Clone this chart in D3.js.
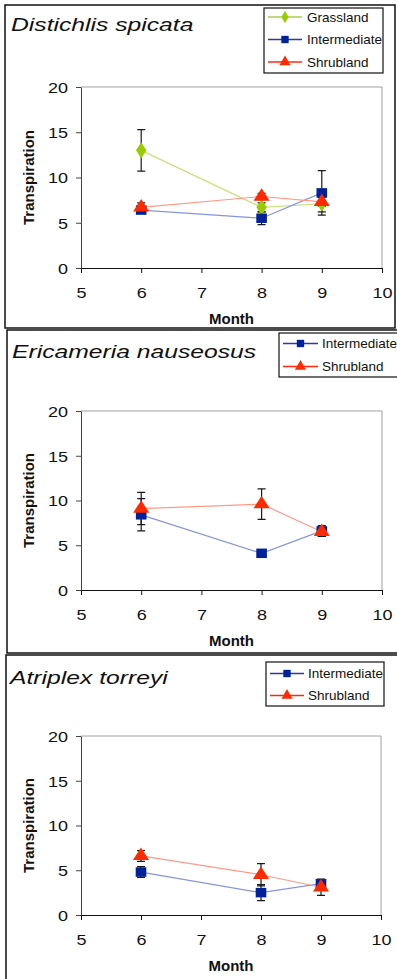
<!DOCTYPE html>
<html><head><meta charset="utf-8">
<script src="https://cdnjs.cloudflare.com/ajax/libs/d3/7.8.5/d3.min.js"></script>
<style>body{margin:0;background:#fff}svg{display:block}text{font-family:"Liberation Sans",Arial,sans-serif}</style>
</head><body>
<svg id="c" width="397" height="979"></svg>
<script>
// ---- data ----
const months = [6, 8, 9];
const xTickValues = [5, 6, 7, 8, 9, 10];
const yTickValues = [0, 5, 10, 15, 20];
const seriesNames = ["Grassland", "Intermediate", "Shrubland"];
const speciesTitles = ["Distichlis spicata", "Ericameria nauseosus", "Atriplex torreyi"];

const dsGrassland = [13.0, 6.7, 7.1];
const dsGrasslandErr = [2.3, 0.5, 0.9];
const dsIntermediate = [6.4, 5.5, 8.3];
const dsIntermediateErr = [0.3, 0.7, 2.45];
const dsShrubland = [6.7, 7.9, 7.3];
const dsShrublandErr = [0.5, 0.35, 0.5];

const enIntermediate = [8.4, 4.1, 6.6];
const enIntermediateErr = [1.8, 0.4, 0.6];
const enShrubland = [9.1, 9.6, 6.5];
const enShrublandErr = [1.8, 1.7, 0.5];

const atIntermediate = [4.8, 2.5, 3.5];
const atIntermediateErr = [0.6, 0.9, 0.4];
const atShrubland = [6.6, 4.5, 3.1];
const atShrublandErr = [0.6, 1.25, 0.9];

// ---- styles ----
const styles = {
  Grassland:   {line: "#c9e07a", legLine: "#a9d145", fill: "#99cc00", sym: d3.symbolDiamond, size: 75},
  Intermediate:{line: "#8894dc", legLine: "#2a3aa8", fill: "#002299", sym: d3.symbolSquare, size: 90},
  Shrubland:   {line: "#ff9a88", legLine: "#ff2a10", fill: "#ff2a00", sym: d3.symbolTriangle, size: 90}
};

const panels = [
  {title: speciesTitles[0], frame: [5, 5, 390, 323], plot: [81, 87, 382, 268], titlePos: [11, 31],
   legend: {box: [264, 8, 119, 65], rows: [17, 39.5, 62], lx: [268, 302], tx: 307},
   series: [
     {name: seriesNames[0], v: dsGrassland, e: dsGrasslandErr},
     {name: seriesNames[1], v: dsIntermediate, e: dsIntermediateErr},
     {name: seriesNames[2], v: dsShrubland, e: dsShrublandErr}]},
  {title: speciesTitles[1], frame: [7, 330, 395, 323], plot: [81, 411, 382, 590], titlePos: [12, 358],
   legend: {box: [279, 333, 122, 44], rows: [343.5, 366.5], lx: [283, 318], tx: 322},
   series: [
     {name: seriesNames[1], v: enIntermediate, e: enIntermediateErr},
     {name: seriesNames[2], v: enShrubland, e: enShrublandErr}]},
  {title: speciesTitles[2], frame: [6, 655, 395, 330], plot: [81, 736, 381, 915], titlePos: [10, 684],
   legend: {box: [266, 662, 118, 44], rows: [673.5, 695.5], lx: [270, 304], tx: 308},
   series: [
     {name: seriesNames[1], v: atIntermediate, e: atIntermediateErr},
     {name: seriesNames[2], v: atShrubland, e: atShrublandErr}]}
];

const svg = d3.select("#c");
const TICK_SX = 1.2, TITLE_SX = 1.3;
const fmt = d3.format("d");

panels.forEach(p => {
  const g = svg.append("g");
  const [fx, fy, fw, fh] = p.frame;
  g.append("rect").attr("x", fx).attr("y", fy).attr("width", fw).attr("height", fh)
    .attr("fill", "none").attr("stroke", "#111").attr("stroke-width", 1.5);

  const [x0, y0, x1, y1] = p.plot;
  const x = d3.scaleLinear().domain([5, 10]).range([x0, x1]);
  const y = d3.scaleLinear().domain([0, 20]).range([y1, y0]);

  // plot border (top/right gray)
  g.append("path").attr("d", `M${x0},${y0}H${x1}V${y1}`).attr("fill", "none")
    .attr("stroke", "#a0a0a0").attr("stroke-width", 1);

  // y axis
  const ya = g.append("g").attr("transform", `translate(${x0},0)`)
    .call(d3.axisLeft(y).tickValues(yTickValues).tickFormat(fmt).tickSize(5).tickSizeOuter(0).tickPadding(0));
  ya.select(".domain").attr("stroke", "#444");
  ya.selectAll(".tick line").attr("stroke", "#444");
  ya.selectAll(".tick text").attr("font-size", 15).attr("fill", "#111")
    .attr("x", -13 / TICK_SX).attr("dy", "0.36em")
    .attr("transform", `scale(${TICK_SX},1)`);

  // x axis
  const xa = g.append("g").attr("transform", `translate(0,${y1})`)
    .call(d3.axisBottom(x).tickValues(xTickValues).tickFormat(fmt).tickSize(5).tickSizeOuter(0).tickPadding(0));
  xa.select(".domain").attr("stroke", "#111");
  xa.selectAll(".tick line").attr("stroke", "#111");
  xa.selectAll(".tick text").attr("font-size", 15).attr("fill", "#111")
    .attr("y", 30).attr("dy", 0)
    .attr("transform", `scale(${TICK_SX},1)`);

  // axis titles
  g.append("text").attr("x", (x0 + x1) / 2).attr("y", y1 + 56).attr("text-anchor", "middle")
    .attr("font-size", 15).attr("font-weight", "bold").attr("fill", "#111").text("Month");
  g.append("text").attr("transform", `translate(34,${(y0 + y1) / 2}) rotate(-90)`)
    .attr("text-anchor", "middle").attr("font-size", 15).attr("font-weight", "bold")
    .attr("fill", "#111").text("Transpiration");

  // species title
  g.append("text").attr("transform", `translate(${p.titlePos[0]},${p.titlePos[1]}) scale(${TITLE_SX},1)`)
    .attr("font-size", 19).attr("font-style", "italic").attr("fill", "#111").text(p.title);

  const line = d3.line().x(d => x(d[0])).y(d => y(d[1]));
  // lines
  p.series.forEach(s => {
    g.append("path").datum(months.map((m, i) => [m, s.v[i]])).attr("d", line)
      .attr("fill", "none").attr("stroke", styles[s.name].line).attr("stroke-width", 1.2);
  });
  // error bars
  p.series.forEach(s => {
    months.forEach((m, i) => {
      const cx = x(m), top = y(s.v[i] + s.e[i]), bot = y(s.v[i] - s.e[i]);
      g.append("path").attr("d", `M${cx},${top}V${bot}M${cx - 4},${top}H${cx + 4}M${cx - 4},${bot}H${cx + 4}`)
        .attr("fill", "none").attr("stroke", "#1a1a1a").attr("stroke-width", 1.2);
    });
  });
  // markers
  p.series.forEach(s => {
    const st = styles[s.name];
    months.forEach((m, i) => {
      g.append("path").attr("d", d3.symbol().type(st.sym).size(st.size)())
        .attr("transform", `translate(${x(m)},${y(s.v[i])}) scale(1.12,1)`)
        .attr("fill", st.fill);
    });
  });

  // legend
  const L = p.legend;
  g.append("rect").attr("x", L.box[0]).attr("y", L.box[1]).attr("width", L.box[2]).attr("height", L.box[3])
    .attr("fill", "#fff").attr("stroke", "#111").attr("stroke-width", 1.2);
  p.series.forEach((s, i) => {
    const st = styles[s.name], ry = L.rows[i];
    g.append("line").attr("x1", L.lx[0]).attr("x2", L.lx[1]).attr("y1", ry).attr("y2", ry)
      .attr("stroke", st.legLine).attr("stroke-width", 1.5);
    g.append("path").attr("d", d3.symbol().type(st.sym).size(st.size * 0.6)())
      .attr("transform", `translate(${(L.lx[0] + L.lx[1]) / 2},${ry})`).attr("fill", st.fill);
    g.append("text").attr("x", L.tx).attr("y", ry).attr("dy", "0.36em")
      .attr("font-size", 13.5).attr("fill", "#111").text(s.name);
  });
});
</script>
</body></html>
